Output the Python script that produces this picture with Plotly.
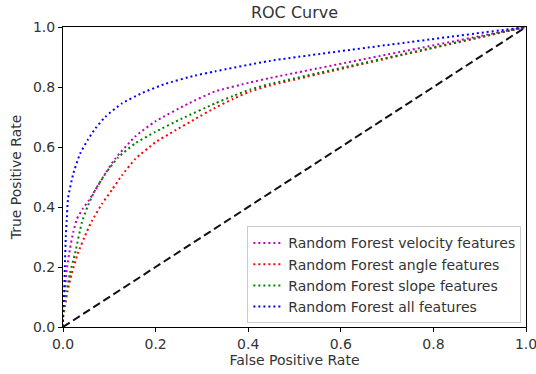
import plotly.graph_objects as go

# Data
vel_fpr = [0.0, 0.0, 0.002, 0.004, 0.008, 0.015, 0.022, 0.03, 0.043, 0.055, 0.069, 0.091, 0.112, 0.156, 0.199, 0.27, 0.328, 0.404, 0.447, 1.0]
vel_tpr = [0.0, 0.05, 0.09, 0.12, 0.19, 0.26, 0.315, 0.36, 0.395, 0.42, 0.455, 0.51, 0.56, 0.635, 0.685, 0.744, 0.785, 0.815, 0.83, 1.0]

ang_fpr = [0.0, 0.0, 0.004, 0.01, 0.019, 0.032, 0.052, 0.063, 0.084, 0.106, 0.127, 0.156, 0.199, 0.242, 0.285, 0.328, 0.367, 0.404, 0.447, 1.0]
ang_tpr = [0.0, 0.03, 0.07, 0.12, 0.18, 0.245, 0.32, 0.355, 0.41, 0.458, 0.505, 0.56, 0.615, 0.655, 0.693, 0.73, 0.76, 0.785, 0.805, 1.0]

slope_fpr = [0.0, 0.0, 0.004, 0.008, 0.015, 0.026, 0.041, 0.054, 0.069, 0.091, 0.119, 0.156, 0.199, 0.257, 0.328, 0.367, 0.404, 0.447, 1.0]
slope_tpr = [0.0, 0.03, 0.07, 0.12, 0.18, 0.245, 0.35, 0.405, 0.455, 0.51, 0.565, 0.612, 0.65, 0.695, 0.745, 0.77, 0.792, 0.81, 1.0]

all_fpr = [0.0, 0.0, 0.002, 0.004, 0.006, 0.008, 0.011, 0.022, 0.037, 0.054, 0.07, 0.091, 0.127, 0.171, 0.22, 0.285, 0.328, 0.447, 1.0]
all_tpr = [0.0, 0.05, 0.1, 0.2, 0.3, 0.355, 0.43, 0.51, 0.578, 0.625, 0.662, 0.70, 0.745, 0.78, 0.81, 0.838, 0.852, 0.887, 1.0]

diag = [0.0, 1.0]

names = ["Random Forest velocity features", "Random Forest angle features",
         "Random Forest slope features", "Random Forest all features"]
colors = ["#bf00bf", "#ff0000", "#008000", "#0000ff"]

fig = go.Figure()
series = [(vel_fpr, vel_tpr), (ang_fpr, ang_tpr), (slope_fpr, slope_tpr), (all_fpr, all_tpr)]
fig.add_trace(go.Scatter(x=diag, y=diag, mode="lines", showlegend=False,
                         line=dict(color="#111111", width=2, dash="8px,4px")))
for (fx, ty), n, c in zip(series, names, colors):
    fig.add_trace(go.Scatter(x=fx, y=ty, mode="lines", name=n,
                             line=dict(color=c, width=2, dash="2px,3px", shape="spline", smoothing=0.5)))

axis_common = dict(range=[0, 1], showgrid=False, zeroline=False, showline=True,
                   linecolor="black", linewidth=1, mirror=True, ticks="outside",
                   ticklen=4, tickcolor="black", dtick=0.2, tickformat=".1f",
                   automargin=False, ticklabeloverflow="allow",
                   tickfont=dict(size=14, color="#333333"))

fig.update_layout(
    width=536, height=374,
    margin=dict(l=63, r=10, t=27, b=47),
    paper_bgcolor="white", plot_bgcolor="white",
    font=dict(family="DejaVu Sans", color="#333333"),
    title=dict(text="ROC Curve", x=0.5, xanchor="center", xref="paper",
               y=1 - 12 / 374, yanchor="middle", font=dict(size=16, color="#333333")),
    xaxis=dict(title=dict(text="False Positive Rate", font=dict(size=14), standoff=3), **axis_common),
    yaxis=dict(title=dict(text="True Positive Rate", font=dict(size=14), standoff=8), **axis_common),
    legend=dict(x=0.99, y=0.012, xanchor="right", yanchor="bottom",
                bgcolor="rgba(255,255,255,0.8)", bordercolor="#cccccc", borderwidth=1,
                font=dict(size=14, color="#333333"), tracegroupgap=0),
)

fig.write_html("out.html")
